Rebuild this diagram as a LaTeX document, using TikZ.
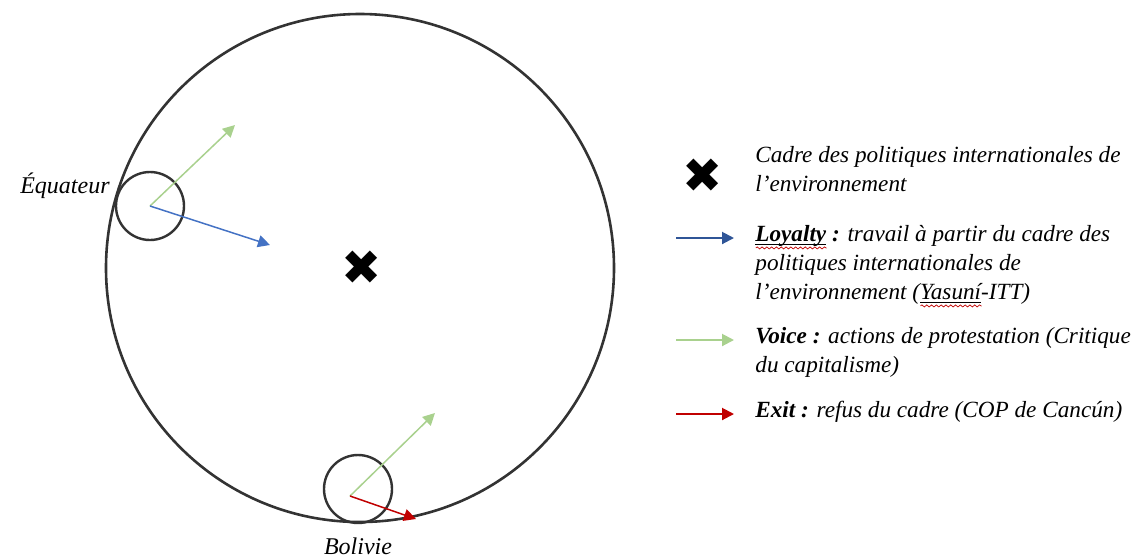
\documentclass[tikz,border=0pt]{standalone}
\usepackage{fontspec}
\setmainfont{Liberation Serif}
\newfontfamily\symbfont{DejaVu Sans}
\usetikzlibrary{arrows.meta,decorations.pathmorphing}

\definecolor{vert}{HTML}{A9D18E}
\definecolor{bleu}{HTML}{4472C4}
\definecolor{bleufonce}{HTML}{2F5597}
\definecolor{rouge}{HTML}{C00000}
\definecolor{trait}{HTML}{333333}

% mot souligne, avec la vague rouge du correcteur
\newsavebox{\motbox}
\newcommand{\fautesp}[1]{\sbox{\motbox}{#1}%
  \rlap{\rule[-1.6pt]{\wd\motbox}{0.5pt}}%
  \rlap{\tikz[baseline=0pt]\draw[rouge,line width=0.35pt,decorate,
    decoration={snake,amplitude=0.5pt,segment length=2.4pt}] (0pt,-3.2pt) -- (\wd\motbox,-3.2pt);}%
  \usebox{\motbox}}

\begin{document}
\begin{tikzpicture}[x=0.5pt,y=-0.5pt,
  fleche/.style={-{Triangle[length=6pt,width=6pt]},line width=0.75pt},
  rond/.style={draw=trait,line width=1.2pt,circle,inner sep=0pt},
  croix/.style={font=\symbfont\fontsize{24}{24}\selectfont,inner sep=0pt},
  pays/.style={font=\itshape\fontsize{12}{14}\selectfont,inner sep=0pt},
  legende/.style={anchor=north west,align=left,inner sep=0pt,
    font=\itshape\fontsize{11.6}{14.5}\selectfont}]
  \useasboundingbox (0,0) rectangle (1137,559);

  % le cadre
  \node[rond,line width=1.3pt,minimum size=254pt] (cadre) at (360,268) {};
  \node[croix] (centre) at (362,268) {✖};

  % Equateur
  \node[rond,minimum size=34pt] (equateur) at (150,206) {};
  \node[pays,anchor=east] (nomequateur) at (110,186) {Équateur};
  \coordinate (eqvoice) at (235,125);
  \coordinate (eqloyalty) at (270,245);
  \draw[fleche,vert] (equateur.center) -- (eqvoice);
  \draw[fleche,bleu] (equateur.center) -- (eqloyalty);

  % Bolivie
  \node[rond,minimum size=34pt] (bolivie) at (358,489) {};
  \node[pays] (nombolivie) at (358,546) {Bolivie};
  \coordinate (bolorigine) at (350,496);
  \coordinate (bolvoice) at (435,413);
  \coordinate (bolexit) at (416,519);
  \draw[fleche,vert] (bolorigine) -- (bolvoice);
  \draw[fleche,rouge] (bolorigine) -- (bolexit);

  % legende
  \node[croix] (croixlegende) at (703,176) {✖};
  \node[legende] (txtcadre) at (755,146) {Cadre des politiques internationales de\\l’environnement};

  \coordinate (loyA) at (676,238);
  \coordinate (loyB) at (734,238);
  \draw[fleche,bleufonce,line width=1pt] (loyA) -- (loyB);
  \node[legende] (txtloyalty) at (755,225) {\textbf{\fautesp{Loyalty}} \textbf{:} travail à partir du cadre des\\politiques internationales de\\l’environnement (\fautesp{Yasuní}-ITT)};

  \coordinate (voiA) at (676,340);
  \coordinate (voiB) at (734,340);
  \draw[fleche,vert,line width=1pt] (voiA) -- (voiB);
  \node[legende] (txtvoice) at (755,327) {\textbf{Voice :} actions de protestation (Critique\\du capitalisme)};

  \coordinate (exiA) at (676,414);
  \coordinate (exiB) at (734,414);
  \draw[fleche,rouge,line width=1pt] (exiA) -- (exiB);
  \node[legende] (txtexit) at (755,401) {\textbf{Exit :} refus du cadre (COP de Cancún)};
\end{tikzpicture}
\end{document}
